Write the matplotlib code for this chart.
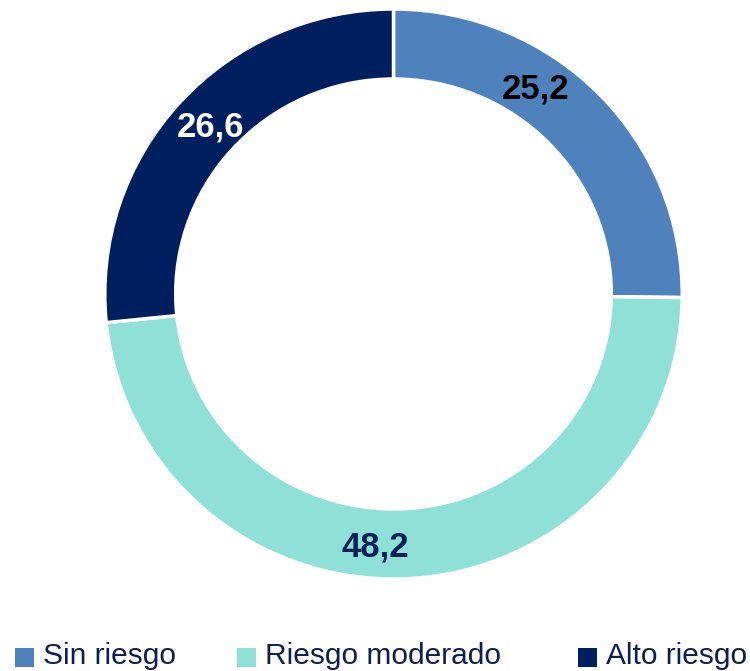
import matplotlib.pyplot as plt
from matplotlib.patches import Rectangle

plt.rcParams['font.family'] = ['Liberation Sans', 'DejaVu Sans']

categories = ["Sin riesgo", "Riesgo moderado", "Alto riesgo"]
values = [25.2, 48.2, 26.6]
colors = ["#4F81BD", "#8FE0D7", "#001F5F"]
label_colors = ["#000000", "#0A2259", "#FFFFFF"]

W, H = 750, 671
fig = plt.figure(figsize=(W / 100, H / 100), dpi=100)
ax = fig.add_axes([0, 0, 1, 1])

cx, cy = 393.5, H - 294
r_out, r_in = 285, 215
sx = 1.013  # slight horizontal stretch of the ring


def px(x):
    """Convert a horizontal pixel position to the stretched data coordinate."""
    return cx + (x - cx) / sx


wedges, _ = ax.pie(values, colors=colors, startangle=90, counterclock=False,
                   radius=r_out, center=(cx, cy),
                   wedgeprops=dict(width=r_out - r_in, edgecolor="white", linewidth=2.5),
                   frame=True)

# value labels placed on the ring
label_pos = [(536, H - 89), (375, H - 547), (211, H - 127)]
for (x, y), v, c in zip(label_pos, values, label_colors):
    ax.text(px(x), y, f"{v:.1f}".replace(".", ","), ha="center", va="center",
            fontsize=25, fontweight="bold", color=c)

# legend row along the bottom
legend_x = [15, 237, 578]
for x, name, col in zip(legend_x, categories, colors):
    ax.add_patch(Rectangle((px(x), H - 667), 19 / sx, 19, facecolor=col, edgecolor="none"))
    ax.text(px(x + 28), H - 656, name, ha="left", va="center", fontsize=21.5,
            color="#0D1F4F")

ax.set_aspect("auto")
ax.set_xlim(px(0), px(W))
ax.set_ylim(0, H)
ax.axis("off")

fig.savefig("out.png", dpi=100)
